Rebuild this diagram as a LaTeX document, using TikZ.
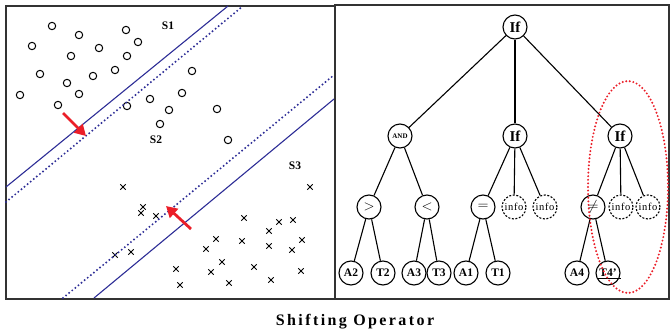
\documentclass[tikz,border=0pt]{standalone}
\usepackage{fontspec}
\setmainfont{Liberation Serif}
\usetikzlibrary{arrows.meta}
\definecolor{svmblue}{RGB}{45, 45, 150}
\definecolor{shiftred}{RGB}{235, 30, 40}

\begin{document}
\begin{tikzpicture}[
                    x=1pt, y=-1pt,
                    frame/.style={draw=black!80, line width=1.6},
                    margin/.style={draw=svmblue, line width=1.1},
                    shifted/.style={draw=svmblue, line width=2.2,
                        line cap=round, dash pattern=on 0pt off 4pt},
                    shift arrow/.style={draw=shiftred, line width=2.8,
                        -{Triangle[length=11, width=12]}},
                    sample/.style={line width=1},
                    region/.style={font=\bfseries\fontsize{11.5}{11.5}\selectfont},
                    every node/.style={inner sep=0pt},
                    gene/.style={
                        circle,
                        draw,
                        line width=1.1,
                        minimum size=24,
                        font=\bfseries\fontsize{11.5}{11.5}\selectfont
                    },
                    op/.style={gene, font=\fontsize{15}{15}\selectfont},
                    info/.style={gene, dashed, dash pattern=on 2pt off 1.6pt,
                        font=\fontsize{10.5}{10.5}\selectfont\addfontfeature{LetterSpace=6}},
                    branch/.style={line width=1.1}
                ]
                    \useasboundingbox (0,0) rectangle (670,335);

                    % two panels
                    \draw[frame] (6,6) rectangle (335,299);
                    \draw[frame] (335,5) rectangle (669,299);

                    % left: class samples and the shifted margins
                    \foreach \px/\py in {52/26, 79/35, 126/30, 32/46, 99/48, 138/42,
                                         71/56, 127/56, 40/74, 93/76, 115/70, 192/71,
                                         67/83, 79/94, 20/95, 58/105, 127/106, 150/99,
                                         182/93, 169/110, 217/109, 160/124, 228/140}
                        \draw[sample] (\px,\py) circle [radius=3.7];
                    \foreach \px/\py in {123/187, 143/207, 141/213, 156/216, 115/255, 131/252,
                                         244/218, 279/222, 293/220, 269/231, 310/187, 216/239,
                                         206/249, 242/241, 269/246, 302/240, 292/250, 222/262,
                                         176/269, 211/272, 254/267, 301/271, 180/285, 229/283,
                                         271/280}
                        \draw[sample] (\px-2.7,\py-2.7) -- (\px+2.7,\py+2.7)
                                      (\px-2.7,\py+2.7) -- (\px+2.7,\py-2.7);

                    \draw[margin] (6,187) -- (228,6);
                    \draw[shifted] (6,202) -- (243,6);
                    \draw[shifted] (63,298) -- (334,75);
                    \draw[margin] (94,298) -- (334,99);

                    \draw[shift arrow] (63,113) -- (86,136);
                    \draw[shift arrow] (191,229) -- (166,206);

                    \node[region] (sone) at (168,26) {S1};
                    \node[region] (stwo) at (156,140) {S2};
                    \node[region] (sthree) at (295,166) {S3};

                    % right: the rule tree
                    \node[gene, font=\bfseries\fontsize{15}{15}\selectfont] (root) at (515,27) {If};
                    \node[gene, font=\bfseries\fontsize{7}{7}\selectfont] (andop) at (400,136) {AND};
                    \node[gene, font=\bfseries\fontsize{15}{15}\selectfont] (ifmid) at (515,136) {If};
                    \node[gene, font=\bfseries\fontsize{15}{15}\selectfont] (ifright) at (620,136) {If};

                    \node[op] (gt) at (369,207) {$>$};
                    \node[op] (lt) at (427,207) {$<$};
                    \node[op] (eq) at (483,207) {$=$};
                    \node[info] (infoa) at (514,207) {info};
                    \node[info] (infob) at (545,207) {info};
                    \node[op] (neq) at (593,207) {$\neq$};
                    \node[info] (infoc) at (621,207) {info};
                    \node[info] (infod) at (648,207) {info};

                    \node[gene] (atwo) at (351,273) {A2};
                    \node[gene] (ttwo) at (383,273) {T2};
                    \node[gene] (athree) at (414,273) {A3};
                    \node[gene] (tthree) at (439,273) {T3};
                    \node[gene] (aone) at (466,273) {A1};
                    \node[gene] (tone) at (498,273) {T1};
                    \node[gene] (afour) at (577,273) {A4};
                    \node[gene] (tfour) at (608,273) {T4'};
                    \draw[line width=1.7] ([shift={(-11,5.5)}]tfour.center) -- ([shift={(13,5.5)}]tfour.center);

                    \foreach \from/\to in {root/andop, root/ifmid, root/ifright,
                                           andop/gt, andop/lt,
                                           ifmid/eq, ifmid/infoa, ifmid/infob,
                                           ifright/neq, ifright/infoc, ifright/infod,
                                           gt/atwo, gt/ttwo, lt/athree, lt/tthree,
                                           eq/aone, eq/tone, neq/afour, neq/tfour}
                        \draw[branch] (\from) -- (\to);

                    % the shifted subtree
                    \draw[shiftred, line width=2.2, line cap=round, dash pattern=on 0pt off 3.6pt]
                        (628,187) ellipse [x radius=40, y radius=106];

                    \node[font=\bfseries\fontsize{16}{16}\selectfont\addfontfeature{LetterSpace=15}]
                        (caption) at (355,322) {Shifting Operator};
                \end{tikzpicture}
\end{document}
